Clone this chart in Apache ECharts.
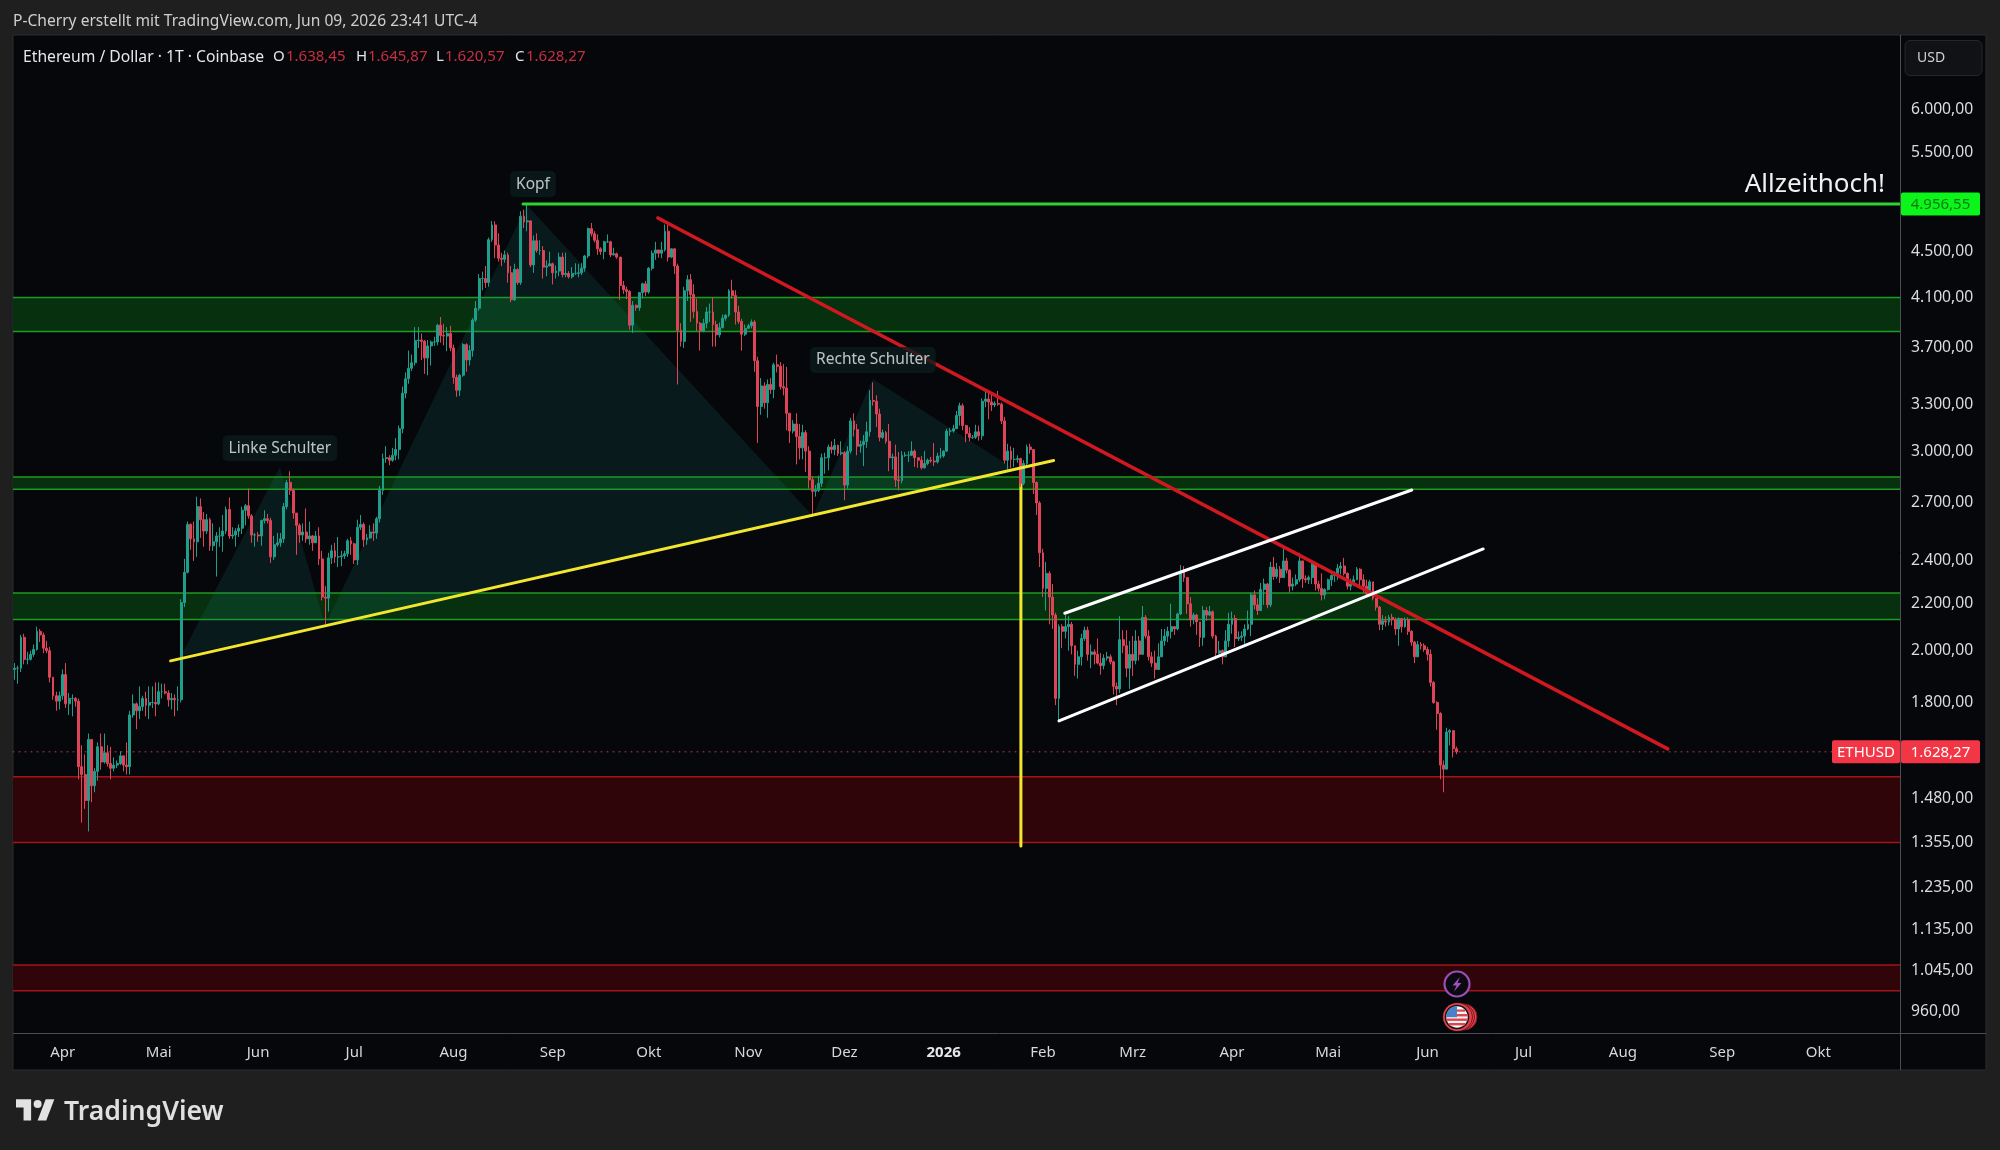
<!DOCTYPE html>
<html>
<head>
<meta charset="utf-8">
<title>Ethereum / Dollar</title>
<script src="https://cdn.jsdelivr.net/npm/echarts@6/dist/echarts.min.js"></script>
<style>
html,body{margin:0;padding:0;background:#1f1f1f;}
#chart{width:2000px;height:1150px;}
</style>
</head>
<body>
<div id="chart"></div>
<script>
// Daily ETH/USD bars, one row per calendar month, first bar 17 Mar 2025
const firstBar = '2025-03-17';
const firstOpen = 1925;
const closes = [
1930,1930,2055,1965,1965,1985,2005,2080,2065,2010,2000,1895,1825,1805,1825,
1905,1795,1815,1815,1805,1580,1555,1475,1670,1520,1565,1645,1595,1625,1590,1575,1585,1590,1615,1585,1580,1755,1795,1770,1785,1815,1790,1800,1800,1795,
1840,1840,1835,1810,1815,1810,1810,2205,2345,2585,2510,2495,2680,2610,2550,2610,2475,2495,2525,2525,2550,2665,2525,2530,2550,2565,2660,2685,2630,2530,2530,
2525,2605,2615,2605,2420,2480,2490,2510,2680,2815,2770,2645,2580,2530,2545,2510,2525,2490,2525,2410,2230,2225,2415,2450,2420,2420,2425,2435,2500,2485,
2405,2570,2585,2505,2515,2545,2540,2615,2770,2955,2960,2945,2975,3010,3140,3375,3475,3550,3590,3755,3760,3750,3625,3715,3745,3745,3875,3795,3790,3810,3700,
3485,3395,3500,3725,3610,3680,3915,4010,4260,4260,4225,4610,4750,4560,4440,4430,4470,4310,4080,4340,4225,4835,4780,4790,4380,4600,4510,4510,4360,4370,4390,
4310,4325,4450,4295,4305,4275,4305,4305,4310,4350,4460,4715,4665,4605,4525,4500,4590,4590,4470,4480,4450,4200,4165,4150,3875,4035,4015,4140,4215,4145,
4350,4485,4515,4485,4515,4690,4450,4525,4370,3835,3750,4155,4250,4125,3985,3890,3830,3890,3980,3980,3880,3800,3855,3930,3955,4155,4115,3980,3905,3805,3850,
3870,3900,3605,3285,3425,3310,3435,3400,3575,3565,3420,3410,3240,3125,3170,3090,3020,3115,3000,2830,2765,2770,2810,2960,2960,3025,3010,3035,2985,2990,
2800,3000,3190,3135,3030,3040,3060,3120,3325,3320,3235,3085,3115,3060,2960,2965,2830,2825,2975,2975,2975,3000,2960,2945,2900,2925,2945,2940,2935,2970,2970,
3000,3125,3125,3140,3225,3290,3160,3110,3085,3085,3120,3095,3320,3335,3315,3295,3305,3300,3190,2945,3000,2950,2950,2955,2810,2925,3025,3010,2815,2700,2440,
2270,2340,2230,2150,1815,2100,2080,2100,2110,2020,1945,1975,2050,2085,1985,1995,1985,1950,1940,1970,1975,1955,1860,1850,2045,2020,1930,1985,
1960,2040,1985,2140,2060,1975,1950,1925,1975,2040,2060,2080,2100,2090,2155,2350,2320,2200,2130,2150,2120,2055,2170,2150,2165,2060,1990,2000,1975,2040,2110,
2135,2050,2055,2060,2090,2110,2240,2195,2170,2265,2290,2195,2370,2325,2360,2320,2400,2355,2280,2290,2310,2400,2315,2310,2320,2385,2290,2270,2240,2265,
2310,2330,2340,2365,2375,2340,2280,2290,2310,2360,2310,2280,2245,2300,2225,2185,2110,2125,2120,2140,2130,2090,2135,2100,2130,2080,2035,1975,2025,2020,2005,
1985,1875,1800,1760,1585,1572,1695,1700,1638.45,1628.27
];
const highs = [
1950,1940,2065,2070,1995,2000,2025,2100,2090,2075,2040,2015,1895,1840,1840,
1925,1950,1835,1830,1820,1815,1650,1620,1690,1670,1575,1660,1690,1690,1650,1645,1610,1600,1630,1615,1660,1770,1830,1800,1860,1825,1840,1860,1860,1875,
1875,1870,1870,1845,1835,1830,1860,2220,2410,2600,2590,2600,2735,2725,2650,2640,2620,2590,2545,2570,2635,2680,2730,2570,2565,2585,2680,2695,2780,2640,2540,
2545,2610,2660,2640,2620,2525,2540,2540,2700,2830,2880,2780,2645,2590,2590,2670,2600,2530,2550,2570,2450,2280,2440,2480,2490,2520,2450,2450,2510,2520,
2490,2610,2635,2595,2535,2580,2590,2625,2795,2985,3030,2975,3020,3080,3160,3420,3520,3680,3650,3860,3860,3810,3760,3760,3755,3785,3885,3940,3885,3860,3870,
3725,3505,3510,3735,3735,3720,3930,4070,4300,4320,4370,4630,4790,4785,4670,4490,4510,4490,4370,4390,4350,4885,4900,4956.55,4785,4650,4670,4605,4550,4420,4500,
4400,4375,4490,4490,4490,4325,4360,4395,4390,4395,4470,4725,4770,4690,4660,4540,4600,4660,4600,4535,4490,4450,4240,4190,4160,4070,4040,4145,4225,4240,
4360,4510,4590,4515,4590,4755,4750,4530,4530,4390,3890,4190,4290,4300,4210,4090,3900,3925,4020,4050,4100,3910,3895,3960,3960,4170,4250,4160,4030,3925,3880,
3885,3920,3915,3635,3480,3450,3470,3480,3590,3650,3595,3580,3560,3240,3195,3240,3170,3165,3130,3030,2850,2800,2855,2985,2990,3040,3060,3075,3040,3060,
3000,3030,3210,3240,3170,3065,3100,3185,3395,3450,3360,3270,3135,3125,3170,2985,3040,2995,3000,2995,3000,3060,3010,2960,2970,3000,2955,2965,3050,2990,3020,
3005,3140,3145,3165,3255,3310,3305,3165,3150,3100,3165,3160,3340,3400,3385,3365,3320,3390,3310,3215,3045,3030,3020,2975,2960,2945,3040,3045,3010,2820,2710,
2460,2395,2350,2290,2160,2110,2110,2150,2145,2120,2020,2000,2070,2100,2100,2025,2005,2050,1990,1985,1995,1985,1960,1875,2145,2085,2085,2040,
2060,2085,2060,2190,2150,2085,1995,2000,2030,2090,2090,2100,2200,2095,2160,2380,2375,2310,2230,2160,2155,2120,2190,2185,2190,2170,2065,2040,2005,2085,2160,
2165,2150,2080,2080,2110,2170,2250,2260,2225,2295,2315,2295,2395,2420,2390,2375,2470,2415,2360,2320,2335,2440,2380,2330,2330,2395,2375,2305,2340,2270,
2315,2335,2350,2385,2395,2415,2345,2315,2330,2370,2365,2335,2310,2310,2300,2225,2190,2150,2145,2150,2155,2140,2140,2120,2140,2140,2085,2040,2040,2035,2030,
2015,2005,1880,1805,1765,1600,1710,1705,1697,1645.87
];
const lows = [
1885,1870,1915,1945,1945,1960,1975,2000,2035,1990,1990,1875,1810,1770,1775,
1810,1780,1755,1750,1785,1540,1410,1450,1385,1470,1500,1535,1570,1590,1580,1540,1565,1575,1585,1565,1555,1555,1745,1705,1740,1770,1750,1740,1780,1750,
1790,1815,1830,1785,1775,1750,1770,1800,2185,2340,2455,2400,2420,2515,2470,2535,2450,2450,2325,2470,2445,2535,2510,2510,2470,2520,2535,2580,2615,2490,2470,
2495,2475,2590,2590,2390,2405,2470,2470,2490,2665,2745,2615,2430,2490,2500,2490,2480,2450,2490,2380,2215,2110,2165,2385,2390,2370,2375,2410,2420,2430,
2385,2380,2555,2470,2480,2510,2500,2510,2595,2745,2930,2915,2935,2945,2950,3110,3340,3440,3530,3570,3700,3610,3510,3500,3570,3715,3720,3740,3720,3675,3675,
3440,3350,3355,3490,3525,3570,3635,3900,3990,4160,4180,4190,4590,4440,4410,4370,4400,4225,4060,4070,4205,4205,4720,4690,4360,4310,4490,4470,4260,4280,4370,
4210,4260,4280,4270,4270,4260,4260,4290,4270,4290,4320,4440,4640,4585,4470,4470,4430,4580,4450,4465,4435,4080,4130,4085,3840,3815,3990,3990,4090,4110,
4130,4330,4425,4445,4440,4500,4410,4440,4300,3435,3710,3700,4070,3900,3930,3830,3680,3820,3850,3900,3710,3710,3780,3850,3910,3940,4090,3880,3885,3680,3790,
3845,3850,3525,3050,3230,3270,3210,3370,3340,3520,3400,3360,3130,3050,3110,2920,2950,2950,2875,2780,2625,2735,2760,2790,2865,2885,2985,2975,2970,2975,
2715,2780,2985,3090,2975,2990,2910,3020,3090,3290,3150,3060,3075,3045,2880,2890,2790,2770,2810,2965,2935,2970,2905,2900,2890,2895,2915,2930,2910,2925,2955,
2960,2995,3095,3115,3145,3160,3130,3055,3060,3075,3075,3065,3070,3280,3200,3255,3280,3290,3170,2925,2890,2900,2905,2930,2790,2800,2900,2985,2750,2635,2370,
2230,2170,2110,2090,1790,1735,2010,2050,2000,1985,1900,1890,1940,2040,1960,1930,1945,1945,1905,1925,1960,1945,1830,1790,1835,1990,1895,1850,
1900,1945,1960,1990,2050,1960,1935,1890,1925,1975,2020,2035,2050,2065,2085,2150,2300,2155,2100,2110,2065,2015,2020,2125,2145,2050,1965,1985,1945,1995,2015,
2070,2015,2040,2040,2025,2085,2060,2175,2150,2180,2195,2180,2185,2310,2315,2295,2333,2340,2250,2260,2280,2300,2272,2295,2290,2290,2260,2255,2215,2220,
2260,2280,2300,2310,2335,2330,2265,2260,2280,2320,2270,2250,2230,2240,2215,2170,2085,2085,2100,2105,2105,2065,2020,2075,2095,2065,2020,1950,1975,2005,1995,
1960,1860,1795,1703,1540,1500,1572,1650,1610,1620.57
];

// Price scale ticks
const priceTicks = [6000,5500,4500,4100,3700,3300,3000,2700,2400,2200,2000,1800,1480,1355,1235,1135,1045,960];
const monthNames = ['Jan','Feb','Mrz','Apr','Mai','Jun','Jul','Aug','Sep','Okt','Nov','Dez'];

// Support and resistance zones, [low, high]
const greenZones = [[3825,4100],[2777,2846],[2131,2249]];
const redZones = [[1354,1548],[1002,1056]];

// Drawn lines as [[bar, price],[bar, price]]
const athPrice = 4956.55;
const lastPrice = 1628.27;
const athLine = [[159.2,athPrice],[589,athPrice]];
const necklineYellow = [[49.2,1959],[324.8,2943]];
const targetDrop = [[314.6,2910],[314.6,1345]];
const downTrend = [[201.3,4818],[516.5,1638]];
const channelUpper = [[328.3,2158],[436.6,2772]];
const channelLower = [[326.5,1734],[458.9,2459]];
const lastPriceLine = [[0,lastPrice],[567.7,lastPrice]];

// Head and shoulders triangles
const patternShapes = [
  [[52.4,1978],[83.3,2904],[97.4,2106]],
  [[97.4,2106],[160.4,4947],[249.7,2628]],
  [[249.7,2628],[268.4,3473],[312.7,2892]]
];
const patternLabels = [
  {name:'Kopf', value:[162.3,5172]},
  {name:'Linke Schulter', value:[83.3,3024]},
  {name:'Rechte Schulter', value:[268.4,3617]}
];

const UI_FONT = '"Noto Sans", sans-serif';
const UP = '#1f9e8c', DOWN = '#de4458';
const PLOT = {left:13, right:1900, top:35, bottom:1033, panelRight:1986, panelBottom:1070};

const DAY = 86400000;
const totalBars = 589;
const startMs = Date.parse(firstBar + 'T00:00:00Z');
const categories = [];
for (let i = 0; i < totalBars; i++) {
  categories.push(new Date(startMs + i * DAY).toISOString().slice(0, 10));
}
const candles = closes.map((c, i) => {
  const o = i === 0 ? firstOpen : closes[i - 1];
  return [o, c, Math.min(lows[i], o, c), Math.max(highs[i], o, c)];
});

const fmt = v => {
  const [a, b] = v.toFixed(2).split('.');
  return a.replace(/\B(?=(\d{3})+$)/g, '.') + ',' + b;
};

const chart = echarts.init(document.getElementById('chart'), null, {renderer:'canvas'});

function txt(text, x, y, fill, size, extra) {
  return {type:'text', z:100, silent:true, style:Object.assign({
    text, x, y, fill, font:`${size}px ${UI_FONT}`, verticalAlign:'middle'
  }, extra || {})};
}
function lineEl(x1, y1, x2, y2, stroke) {
  return {type:'line', z:90, silent:true, shape:{x1,y1,x2,y2}, style:{stroke, lineWidth:1}};
}
function overlayLine(data, color, width, z, type) {
  return {type:'line', xAxisIndex:1, yAxisIndex:0, data, symbol:'none', silent:true, z,
    clip:true, animation:false, lineStyle:{color, width, type:type || 'solid', cap:'round'}};
}
function priceTag(price, x1, x2, fill, textFill, label) {
  return {
    type:'custom', xAxisIndex:1, yAxisIndex:0, z:20, silent:true, clip:false,
    data:[[0, price]], encode:{x:0, y:1},
    renderItem(params, api) {
      const y = api.coord([0, price])[1];
      return {type:'group', children:[
        {type:'rect', shape:{x:x1, y:y-11.5, width:x2-x1, height:23, r:2}, style:{fill}},
        {type:'text', style:{text:label, x:(x1+x2)/2, y:y+0.5, align:'center', verticalAlign:'middle',
          fill:textFill, font:`15px ${UI_FONT}`}}
      ]};
    }
  };
}
function zoneSeries(zones, fill, stroke) {
  return {
    type:'custom', xAxisIndex:1, yAxisIndex:0, z:1, silent:true, clip:true,
    data:zones.map(z => [0, z[0], z[1]]), encode:{x:0, y:[1,2]},
    renderItem(params, api) {
      const a = api.coord([0, api.value(2)]);
      const b = api.coord([totalBars, api.value(1)]);
      return {type:'group', children:[
        {type:'rect', shape:{x:a[0], y:a[1], width:b[0]-a[0], height:b[1]-a[1]}, style:{fill}},
        {type:'line', shape:{x1:a[0], y1:a[1], x2:b[0], y2:a[1]}, style:{stroke, lineWidth:1.5}},
        {type:'line', shape:{x1:a[0], y1:b[1], x2:b[0], y2:b[1]}, style:{stroke, lineWidth:1.5}}
      ]};
    }
  };
}

// Economic event markers and the logo are plain decoration around the plot
const flagX = 1457, flagY = 1017;
const markX = 16, markY = 1094.5, markSX = 1.08, markSY = 1.18;
const markPoly = pts => pts.map(p => [markX + p[0] * markSX, markY + p[1] * markSY]);
const decorations = [
  {type:'rect', z:-10, silent:true, shape:{x:PLOT.left, y:PLOT.top, width:PLOT.panelRight-PLOT.left, height:PLOT.panelBottom-PLOT.top}, style:{fill:'#05070b', stroke:'#2b2d31', lineWidth:1}},
  lineEl(PLOT.right+0.5, PLOT.top, PLOT.right+0.5, PLOT.panelBottom, '#4a4d52'),
  lineEl(PLOT.left, PLOT.bottom+0.5, PLOT.panelRight, PLOT.bottom+0.5, '#4a4d52'),
  txt('P-Cherry erstellt mit TradingView.com, Jun 09, 2026 23:41 UTC-4', 13, 21.3, '#cfcfcf', 15.6),
  txt('Ethereum / Dollar · 1T · Coinbase', 23, 57.2, '#e6e6e6', 15.7),
  txt('O', 273, 57.2, '#e6e6e6', 15), txt('1.638,45', 286, 57.2, '#c8303f', 15),
  txt('H', 356, 57.2, '#e6e6e6', 15), txt('1.645,87', 368, 57.2, '#c8303f', 15),
  txt('L', 436, 57.2, '#e6e6e6', 15), txt('1.620,57', 445, 57.2, '#c8303f', 15),
  txt('C', 515, 57.2, '#e6e6e6', 15), txt('1.628,27', 526, 57.2, '#c8303f', 15),
  {type:'rect', z:95, silent:true, shape:{x:1905, y:40.5, width:77, height:35, r:5}, style:{fill:'#101216', stroke:'#24262b', lineWidth:1}},
  txt('USD', 1917, 58.5, '#d0d0d0', 14),
  txt('Allzeithoch!', 1885, 184.3, '#f0f0f0', 26, {align:'right'}),
  {type:'circle', z:96, silent:true, shape:{cx:1457, cy:984, r:12.5}, style:{fill:'#0b0a10', stroke:'#9a4fb8', lineWidth:2.2}},
  {type:'polygon', z:97, silent:true, shape:{points:[[1460,977],[1452.5,985.5],[1456.5,985.5],[1454,991.5],[1461.5,983],[1457.5,983]]}, style:{fill:'#a050c0'}},
  {type:'circle', z:96, silent:true, shape:{cx:flagX+7, cy:flagY, r:13}, style:{fill:'#e5404a', stroke:'#7a1820', lineWidth:1}},
  {type:'circle', z:96, silent:true, shape:{cx:flagX+4.5, cy:flagY, r:13}, style:{fill:'#e5404a', stroke:'#7a1820', lineWidth:1}},
  {type:'circle', z:96, silent:true, shape:{cx:flagX+2, cy:flagY, r:13.5}, style:{fill:'#e5404a', stroke:'#7a1820', lineWidth:1}},
  {type:'circle', z:96, silent:true, shape:{cx:flagX, cy:flagY, r:14}, style:{fill:'#e5404a'}},
  {type:'circle', z:97, silent:true, shape:{cx:flagX, cy:flagY, r:11.5}, style:{fill:'#f4f4f4', stroke:'#15151a', lineWidth:1.5}},
  {type:'rect', z:98, silent:true, shape:{x:flagX-5, y:flagY-7.5, width:13, height:2.2}, style:{fill:'#e0454d'}},
  {type:'rect', z:98, silent:true, shape:{x:flagX, y:flagY-3, width:10.6, height:2.4}, style:{fill:'#e0454d'}},
  {type:'rect', z:98, silent:true, shape:{x:flagX-10.6, y:flagY+1.5, width:21.2, height:2.4}, style:{fill:'#e0454d'}},
  {type:'rect', z:98, silent:true, shape:{x:flagX-8.2, y:flagY+6, width:16.4, height:2.4}, style:{fill:'#e0454d'}},
  {type:'sector', z:99, silent:true, shape:{cx:flagX, cy:flagY, r:10.8, r0:0, startAngle:Math.PI, endAngle:Math.PI*1.5}, style:{fill:'#4a80c8'}},
  {type:'rect', z:99, silent:true, shape:{x:flagX-10.8, y:flagY-1, width:10.8, height:1.2}, style:{fill:'#4a80c8'}},
  // TradingView mark, laid out on a 36x28 box
  {type:'polygon', z:100, silent:true, shape:{points:markPoly([[14,22],[7,22],[7,11],[0,11],[0,4],[14,4]])}, style:{fill:'#e2e2e2'}},
  {type:'polygon', z:100, silent:true, shape:{points:markPoly([[28,22],[20,22],[27.5,4],[35.5,4]])}, style:{fill:'#e2e2e2'}},
  {type:'circle', z:100, silent:true, shape:{cx:markX+20*markSX, cy:markY+8*markSY, r:4}, style:{fill:'#e2e2e2'}},
  txt('TradingView', 64, 1112, '#e0e0e0', 26.6, {font:`600 26.6px ${UI_FONT}`})
];

const option = {
  animation:false,
  backgroundColor:'transparent',
  grid:{left:PLOT.left, right:2000-PLOT.right, top:PLOT.top, bottom:1150-PLOT.bottom, containLabel:false},
  xAxis:[
    {type:'category', data:categories, boundaryGap:true,
      axisLine:{show:false}, axisTick:{show:false}, splitLine:{show:false},
      axisLabel:{
        color:'#d8d8d8', fontFamily:UI_FONT, fontSize:15, margin:12.5, hideOverlap:false,
        interval:(i, v) => v.endsWith('-01'),
        formatter:v => {
          const [y, m] = v.split('-');
          return m === '01' ? `{yr|${y}}` : monthNames[+m - 1];
        },
        rich:{yr:{color:'#e6e6e6', fontFamily:UI_FONT, fontSize:15, fontWeight:'bold'}}
      }},
    {type:'value', min:0, max:totalBars, show:false, splitLine:{show:false}}
  ],
  yAxis:[{
    type:'log', logBase:10, position:'right', min:919.6, max:6988,
    axisLine:{show:false}, axisTick:{show:false}, splitLine:{show:false}, minorTick:{show:false},
    axisLabel:{color:'#dcdcdc', fontFamily:UI_FONT, fontSize:15.7, margin:11, align:'left',
      padding:[1.5,0,0,0], showMinLabel:true, showMaxLabel:true,
      customValues:priceTicks, formatter:v => fmt(Math.round(v))}
  }],
  series:[
    zoneSeries(greenZones, '#07300f', '#1f9a22'),
    zoneSeries(redZones, '#30050a', '#a31418'),
    {type:'custom', xAxisIndex:1, yAxisIndex:0, z:1, silent:true, clip:true,
      data:patternShapes.map(s => s[0]), encode:{x:0, y:1},
      renderItem(params, api) {
        const pts = patternShapes[params.dataIndex].map(p => api.coord(p));
        return {type:'polygon', shape:{points:pts}, style:{fill:'rgba(24,130,118,0.16)'}};
      }},
    overlayLine(lastPriceLine, '#c0384a', 1, 1, [1,5]),
    overlayLine(targetDrop, '#f2e62e', 3, 1),
    {type:'candlestick', name:'ETHUSD', xAxisIndex:0, yAxisIndex:0, data:candles, barWidth:2.4, z:2,
      itemStyle:{color:UP, color0:DOWN, borderColor:UP, borderColor0:DOWN, borderWidth:1}},
    overlayLine(necklineYellow, '#f2e62e', 3, 3),
    overlayLine(downTrend, '#cf1820', 3.6, 3),
    overlayLine(channelUpper, '#ffffff', 3, 3),
    overlayLine(channelLower, '#ffffff', 3, 3),
    overlayLine(athLine, '#2fd32f', 3, 3),
    {type:'scatter', xAxisIndex:1, yAxisIndex:0, data:patternLabels, symbolSize:0, z:6, silent:true,
      label:{show:true, position:'inside', offset:[0,1], formatter:'{b}', color:'#e8f0ee', fontFamily:UI_FONT, fontSize:15.5,
        backgroundColor:'#0b1b1c', padding:[5,6], borderRadius:5}},
    priceTag(athPrice, PLOT.right+1, 1980, '#0cf51a', '#0b7a12', fmt(athPrice)),
    priceTag(lastPrice, 1832, PLOT.right, '#f23645', '#ffffff', 'ETHUSD'),
    priceTag(lastPrice, PLOT.right+1, 1980, '#f23645', '#ffffff', fmt(lastPrice))
  ],
  graphic:{elements:decorations}
};
chart.setOption(option);
</script>
</body>
</html>
